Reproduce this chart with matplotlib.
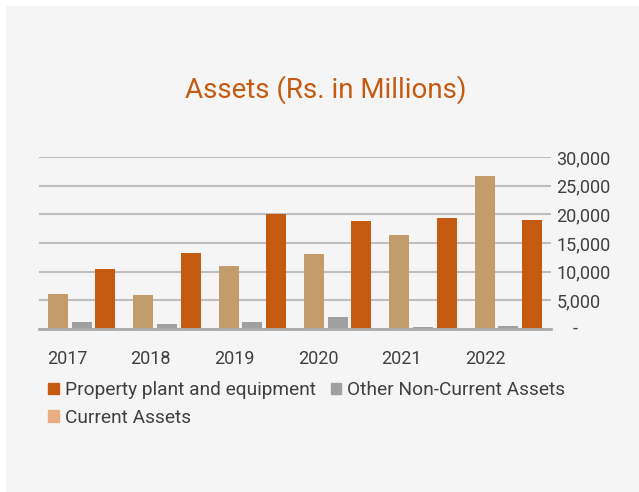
import matplotlib
matplotlib.use("Agg")
import matplotlib.pyplot as plt
import matplotlib.patches as mpatches
import matplotlib.transforms as mtransforms
import numpy as np

# Data -------------------------------------------------------------------------
years = ["2017", "2018", "2019", "2020", "2021", "2022"]
current_assets = [6100, 5900, 11000, 13100, 16400, 26700]
other_non_current = [1200, 900, 1200, 2100, 350, 500]
property_plant = [10500, 13300, 20100, 18800, 19400, 19000]
yticks = [0, 5000, 10000, 15000, 20000, 25000, 30000]

# Style ------------------------------------------------------------------------
ORANGE = "#C55A11"
GRAY = "#A0A0A0"
TAN = "#C49C6B"
TAN_LEGEND = "#E8AE82"
TEXT = "#404040"
BG = "#F5F5F5"

plt.rcParams["font.family"] = ["Roboto", "DejaVu Sans"]

fig = plt.figure(figsize=(6.39, 4.92), dpi=100, facecolor="white")
fig.patches.append(mpatches.Rectangle((6 / 639, 0), 1, 1 - 6 / 492,
                                      transform=fig.transFigure,
                                      facecolor=BG, edgecolor="none", zorder=-10))

ax = fig.add_axes([39 / 639, 163 / 492, 512 / 639, 172 / 492])
ax.set_facecolor(BG)

x = np.arange(len(years))
w = 0.235
off = 0.276
b_ca = ax.bar(x - off, current_assets, w, color=TAN, zorder=3)
b_ot = ax.bar(x, other_non_current, w, color=GRAY, zorder=3)
b_pp = ax.bar(x + off, property_plant, w, color=ORANGE, zorder=3)

ax.set_xlim(-0.5, 5.5)
ax.set_ylim(0, 30000)
ax.set_yticks(yticks)
ax.set_yticklabels(["" if v == 0 else f"{v:,}" for v in yticks])
ax.yaxis.tick_right()
ax.tick_params(axis="y", length=0, pad=4, labelsize=13, labelcolor=TEXT)
for lab in ax.get_yticklabels():
    lab.set_horizontalalignment("left")
ax.set_xticks([])
ax.grid(axis="y", color="#BEBEBE", linewidth=1.5, zorder=0)
for s in ["top", "left", "right"]:
    ax.spines[s].set_visible(False)
ax.spines["bottom"].set_color("#ABABAB")
ax.spines["bottom"].set_linewidth(2)
ax.spines["bottom"].set_zorder(4)

# year labels sit a bit left of each group
trans = mtransforms.blended_transform_factory(ax.transData, ax.transAxes)
for i, yr in enumerate(years):
    ax.text(i - 0.17 - 0.02 * i, -0.174, yr, transform=trans, ha="center",
            va="center", fontsize=13, color=TEXT)

# zero label "-" is placed further right
ax.text((573 - 39) / 512, 0, "-", transform=ax.transAxes,
        ha="left", va="center", fontsize=13, color=TEXT)

fig.text(326 / 639, 1 - 90 / 492, "Assets (Rs. in Millions)", ha="center",
         va="center", fontsize=20, color=ORANGE)

# column-filled legend: order gives PPE, Other on row 1 and Current on row 2
handles = [mpatches.Patch(color=ORANGE), mpatches.Patch(color=TAN_LEGEND),
           mpatches.Patch(color=GRAY)]
labels = ["Property plant and equipment", "Current Assets",
          "Other Non-Current Assets"]
leg = fig.legend(handles, labels, loc="upper left",
                 bbox_to_anchor=(31 / 639, 1 - 364 / 492), ncol=2,
                 frameon=False, fontsize=13.8, handlelength=0.55,
                 handleheight=0.55, handletextpad=0.3, columnspacing=0.8,
                 labelspacing=0.5, labelcolor=TEXT)

fig.savefig("out.png", dpi=100, facecolor="white")
